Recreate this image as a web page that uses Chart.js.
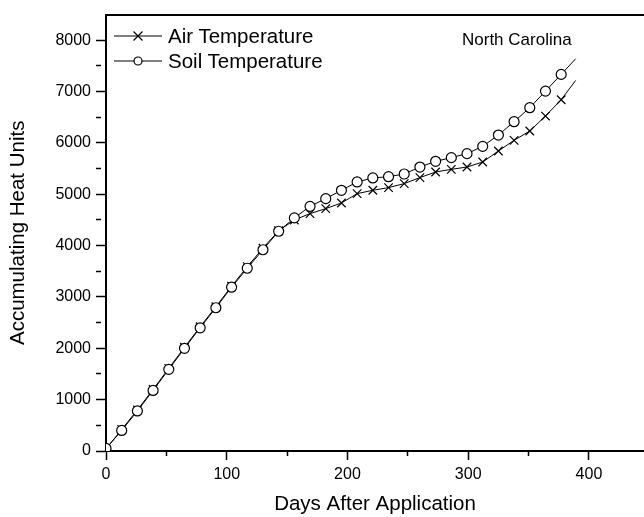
<!DOCTYPE html>
<html lang="en">
<head>
    <meta charset="UTF-8">
    <title>Accumulating Heat Units - North Carolina</title>
    <script src="https://cdn.jsdelivr.net/npm/chart.js"></script>
    <style>
        body { margin: 0; background: #fff; }
        #wrap { position: relative; width: 644px; height: 517px; font-family: 'Liberation Sans', Arial, sans-serif; color: #000; }
        .legend-row { position: absolute; left: 114px; display: flex; align-items: center; font-size: 20.5px; height: 24px; }
        .legend-row svg { margin-right: 6px; }
        #place { position: absolute; left: 462px; top: 30px; font-size: 17px; }
    </style>
</head>
<body>
    <div id="wrap">
        <canvas id="heat" width="644" height="517"></canvas>
        <div class="legend-row" style="top:24px">
            <svg width="48" height="14"><line x1="0" y1="7" x2="48" y2="7" stroke="#000" stroke-width="1"/><path d="M19.5 2.5 L28.5 11.5 M28.5 2.5 L19.5 11.5" stroke="#000" stroke-width="1.2"/></svg>
            <span>Air Temperature</span>
        </div>
        <div class="legend-row" style="top:49px">
            <svg width="48" height="14"><line x1="0" y1="7" x2="48" y2="7" stroke="#000" stroke-width="1"/><circle cx="24" cy="7" r="4" fill="#fff" stroke="#000" stroke-width="1.2"/></svg>
            <span>Soil Temperature</span>
        </div>
        <div id="place">North Carolina</div>
    </div>
    <script>
        // days after application (last value = end of the drawn curve, no marker)
        const days = [0, 13, 26, 39, 52, 65, 78, 91, 104, 117, 130, 143, 156, 169, 182, 195,
                      208, 221, 234, 247, 260, 273, 286, 299, 312, 325, 338, 351, 364, 377, 389];
        const airHeat = [40, 420, 800, 1200, 1610, 2020, 2420, 2810, 3210, 3590, 3950, 4290, 4500, 4624, 4721, 4831,
                         5013, 5078, 5130, 5208, 5325, 5434, 5486, 5531, 5629, 5843, 6051, 6232, 6524, 6842, 7218];
        const soilHeat = [50, 400, 780, 1180, 1590, 2000, 2400, 2790, 3190, 3560, 3920, 4280, 4540, 4765, 4915, 5078,
                          5240, 5318, 5343, 5395, 5531, 5642, 5714, 5792, 5934, 6154, 6414, 6687, 7010, 7335, 7640];
        // tick positions (labelled ones and minor ones)
        const xTickValues = [0, 50, 100, 150, 200, 250, 300, 350, 400];
        const xLabels = [0, 100, 200, 300, 400];
        const yTickValues = [0, 500, 1000, 1500, 2000, 2500, 3000, 3500, 4000, 4500, 5000, 5500, 6000, 6500, 7000, 7500, 8000];
        const yLabels = [0, 1000, 2000, 3000, 4000, 5000, 6000, 7000, 8000];

        const FONT = "'Liberation Sans', Arial, sans-serif";
        const lastIdx = days.length - 1;

        function punkte(werte) {
            return days.map((d, i) => ({ x: d, y: werte[i] }));
        }

        function festeTicks(werte) {
            return scale => {
                scale.ticks = werte.map(v => ({ value: v }));
            };
        }

        const config = {
            type: 'line',
            data: {
                datasets: [{
                    label: 'Air Temperature',
                    data: punkte(airHeat),
                    borderColor: '#000',
                    borderWidth: 1,
                    pointStyle: 'crossRot',
                    pointRadius: c => c.dataIndex === lastIdx ? 0 : 6,
                    pointBorderWidth: 1.2,
                    pointBorderColor: '#000',
                    tension: 0,
                    order: 2
                }, {
                    label: 'Soil Temperature',
                    data: punkte(soilHeat),
                    borderColor: '#000',
                    borderWidth: 1,
                    pointStyle: 'circle',
                    pointRadius: c => c.dataIndex === lastIdx ? 0 : 5,
                    pointBackgroundColor: '#fff',
                    pointBorderColor: '#000',
                    pointBorderWidth: 1.2,
                    tension: 0,
                    order: 1
                }]
            },
            options: {
                responsive: false,
                animation: false,
                layout: { autoPadding: false, padding: { top: 14, left: 0, right: 0, bottom: 0 } },
                plugins: { legend: { display: false }, tooltip: { enabled: false } },
                scales: {
                    x: {
                        type: 'linear',
                        min: 0,
                        max: 445.6,
                        afterFit: s => { s.height = 66; s.paddingRight = 0; },
                        afterBuildTicks: festeTicks(xTickValues),
                        ticks: {
                            autoSkip: false,
                            maxRotation: 0,
                            padding: 5,
                            color: '#000',
                            font: { family: FONT, size: 16 },
                            callback: v => xLabels.includes(v) ? String(v) : ''
                        },
                        grid: {
                            drawOnChartArea: false,
                            tickLength: 9,
                            tickWidth: 1.5,
                            tickColor: '#000',
                            tickBorderDash: c => (c.tick && c.tick.value % 100 !== 0) ? [4, 40] : []
                        },
                        border: { color: '#000', width: 2 },
                        title: {
                            display: true,
                            text: 'Days After Application',
                            color: '#000',
                            font: { family: FONT, size: 20.5 },
                            padding: { top: 0, bottom: 0 }
                        }
                    },
                    xTop: {
                        type: 'linear',
                        position: 'top',
                        afterFit: s => { s.height = 0; },
                        ticks: { display: false },
                        grid: { drawOnChartArea: false, drawTicks: false },
                        border: { color: '#000', width: 2 }
                    },
                    y: {
                        min: 0,
                        max: 8500,
                        afterFit: s => { s.width = 106; },
                        afterBuildTicks: festeTicks(yTickValues),
                        ticks: {
                            autoSkip: false,
                            padding: 5,
                            color: '#000',
                            font: { family: FONT, size: 16 },
                            callback: v => yLabels.includes(v) ? String(v) : ''
                        },
                        grid: {
                            drawOnChartArea: false,
                            tickLength: 10,
                            tickWidth: 1.5,
                            tickColor: '#000',
                            tickBorderDash: c => (c.tick && c.tick.value % 1000 !== 0) ? [5, 40] : []
                        },
                        border: { color: '#000', width: 2 },
                        title: {
                            display: true,
                            text: 'Accumulating Heat Units',
                            color: '#000',
                            font: { family: FONT, size: 20.5 },
                            padding: { top: 6, bottom: 0 }
                        }
                    }
                }
            }
        };

        new Chart(document.getElementById('heat').getContext('2d'), config);
    </script>
</body>
</html>
